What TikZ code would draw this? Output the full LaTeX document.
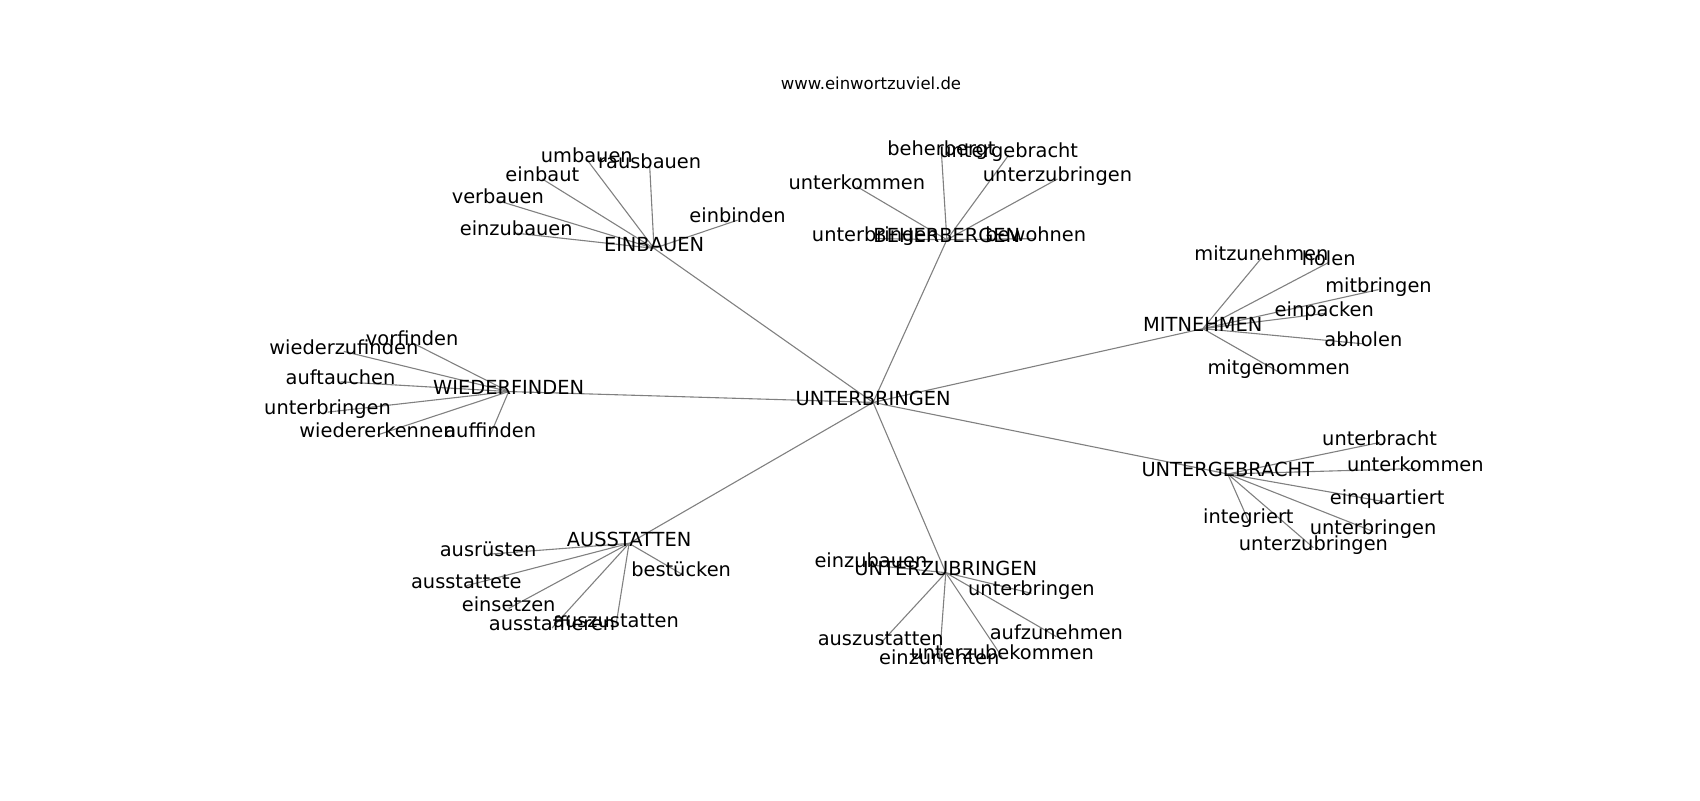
\documentclass[tikz,border=0pt]{standalone}
\usepackage{fontspec}
\setmainfont{DejaVu Sans}
\usetikzlibrary{backgrounds}
\tikzset{
  word/.style={inner sep=0pt, font=\fontsize{19.4}{22}\selectfont, text height=0.76em, text depth=0.23em},
  edge/.style={draw=gray, line width=1.1pt}
}
\begin{document}
\begin{tikzpicture}[x=1.0846pt, y=-1.0846pt]
        \useasboundingbox (0,-4) rectangle (1567.4,733.6);
        \node[font=\fontsize{16.5}{19}\selectfont, inner sep=0pt, text height=0.76em, text depth=0.23em] (title) at (803,76) {www.einwortzuviel.de};

        \node[word] (hub) at (805,367) {UNTERBRINGEN};
        \node[word] (einbauen) at (603,225) {EINBAUEN};
        \node[word] (beherbergen) at (873,217) {BEHERBERGEN};
        \node[word] (mitnehmen) at (1109,299) {MITNEHMEN};
        \node[word] (untergebracht) at (1132,433) {UNTERGEBRACHT};
        \node[word] (wiederfinden) at (469,357) {WIEDERFINDEN};
        \node[word] (ausstatten) at (580,497) {AUSSTATTEN};
        \node[word] (unterzubringen) at (872,524) {UNTERZUBRINGEN};

        \node[word] (umbauen) at (541,143) {umbauen};
        \node[word] (rausbauen) at (599,149) {rausbauen};
        \node[word] (einbaut) at (500,161) {einbaut};
        \node[word] (verbauen) at (459,181) {verbauen};
        \node[word] (einzubauenA) at (476,211) {einzubauen};
        \node[word] (einbinden) at (680,199) {einbinden};

        \node[word] (beherbergt) at (868,137) {beherbergt};
        \node[word] (untergebrachtB) at (930,139) {untergebracht};
        \node[word] (unterkommenB) at (790,168) {unterkommen};
        \node[word] (unterzubringenB) at (975,161) {unterzubringen};
        \node[word] (unterbringenB) at (807,216) {unterbringen};
        \node[word] (bewohnen) at (955,216) {bewohnen};

        \node[word] (mitzunehmen) at (1163,234) {mitzunehmen};
        \node[word] (holen) at (1225,238) {holen};
        \node[word] (mitbringen) at (1271,263) {mitbringen};
        \node[word] (einpacken) at (1221,285) {einpacken};
        \node[word] (abholen) at (1257,313) {abholen};
        \node[word] (mitgenommen) at (1179,339) {mitgenommen};

        \node[word] (unterbracht) at (1272,404) {unterbracht};
        \node[word] (unterkommenU) at (1305,428) {unterkommen};
        \node[word] (einquartiert) at (1279,459) {einquartiert};
        \node[word] (unterbringenU) at (1266,486) {unterbringen};
        \node[word] (integriert) at (1151,476) {integriert};
        \node[word] (unterzubringenU) at (1211,501) {unterzubringen};

        \node[word] (vorfinden) at (380,312) {vorfinden};
        \node[word] (wiederzufinden) at (317,320) {wiederzufinden};
        \node[word] (auftauchen) at (314,348) {auftauchen};
        \node[word] (unterbringenW) at (302,376) {unterbringen};
        \node[word] (wiedererkennen) at (348,397) {wiedererkennen};
        \node[word] (auffinden) at (452,397) {auffinden};

        \node[word] (ausruesten) at (450,507) {ausrüsten};
        \node[word] (ausstattete) at (430,536) {ausstattete};
        \node[word] (bestuecken) at (628,525) {bestücken};
        \node[word] (einsetzen) at (469,557) {einsetzen};
        \node[word] (ausstaffieren) at (509,575) {ausstaffieren};
        \node[word] (auszustattenA) at (568,572) {auszustatten};

        \node[word] (einzubauenZ) at (803,517) {einzubauen};
        \node[word] (unterbringenZ) at (951,543) {unterbringen};
        \node[word] (auszustattenZ) at (812,589) {auszustatten};
        \node[word] (einzurichten) at (866,606) {einzurichten};
        \node[word] (unterzubekommen) at (924,602) {unterzubekommen};
        \node[word] (aufzunehmen) at (974,583) {aufzunehmen};

        \begin{scope}[on background layer]
        \draw[edge] (hub.center) -- (einbauen.center);
        \draw[edge] (hub.center) -- (beherbergen.center);
        \draw[edge] (hub.center) -- (mitnehmen.center);
        \draw[edge] (hub.center) -- (untergebracht.center);
        \draw[edge] (hub.center) -- (wiederfinden.center);
        \draw[edge] (hub.center) -- (ausstatten.center);
        \draw[edge] (hub.center) -- (unterzubringen.center);

        \draw[edge] (einbauen.center) -- (umbauen.center);
        \draw[edge] (einbauen.center) -- (rausbauen.center);
        \draw[edge] (einbauen.center) -- (einbaut.center);
        \draw[edge] (einbauen.center) -- (verbauen.center);
        \draw[edge] (einbauen.center) -- (einzubauenA.center);
        \draw[edge] (einbauen.center) -- (einbinden.center);

        \draw[edge] (beherbergen.center) -- (beherbergt.center);
        \draw[edge] (beherbergen.center) -- (untergebrachtB.center);
        \draw[edge] (beherbergen.center) -- (unterkommenB.center);
        \draw[edge] (beherbergen.center) -- (unterzubringenB.center);
        \draw[edge] (beherbergen.center) -- (unterbringenB.center);
        \draw[edge] (beherbergen.center) -- (bewohnen.center);

        \draw[edge] (mitnehmen.center) -- (mitzunehmen.center);
        \draw[edge] (mitnehmen.center) -- (holen.center);
        \draw[edge] (mitnehmen.center) -- (mitbringen.center);
        \draw[edge] (mitnehmen.center) -- (einpacken.center);
        \draw[edge] (mitnehmen.center) -- (abholen.center);
        \draw[edge] (mitnehmen.center) -- (mitgenommen.center);

        \draw[edge] (untergebracht.center) -- (unterbracht.center);
        \draw[edge] (untergebracht.center) -- (unterkommenU.center);
        \draw[edge] (untergebracht.center) -- (einquartiert.center);
        \draw[edge] (untergebracht.center) -- (unterbringenU.center);
        \draw[edge] (untergebracht.center) -- (integriert.center);
        \draw[edge] (untergebracht.center) -- (unterzubringenU.center);

        \draw[edge] (wiederfinden.center) -- (vorfinden.center);
        \draw[edge] (wiederfinden.center) -- (wiederzufinden.center);
        \draw[edge] (wiederfinden.center) -- (auftauchen.center);
        \draw[edge] (wiederfinden.center) -- (unterbringenW.center);
        \draw[edge] (wiederfinden.center) -- (wiedererkennen.center);
        \draw[edge] (wiederfinden.center) -- (auffinden.center);

        \draw[edge] (ausstatten.center) -- (ausruesten.center);
        \draw[edge] (ausstatten.center) -- (ausstattete.center);
        \draw[edge] (ausstatten.center) -- (bestuecken.center);
        \draw[edge] (ausstatten.center) -- (einsetzen.center);
        \draw[edge] (ausstatten.center) -- (ausstaffieren.center);
        \draw[edge] (ausstatten.center) -- (auszustattenA.center);

        \draw[edge] (unterzubringen.center) -- (einzubauenZ.center);
        \draw[edge] (unterzubringen.center) -- (unterbringenZ.center);
        \draw[edge] (unterzubringen.center) -- (auszustattenZ.center);
        \draw[edge] (unterzubringen.center) -- (einzurichten.center);
        \draw[edge] (unterzubringen.center) -- (unterzubekommen.center);
        \draw[edge] (unterzubringen.center) -- (aufzunehmen.center);
        \end{scope}
\end{tikzpicture}
\end{document}
